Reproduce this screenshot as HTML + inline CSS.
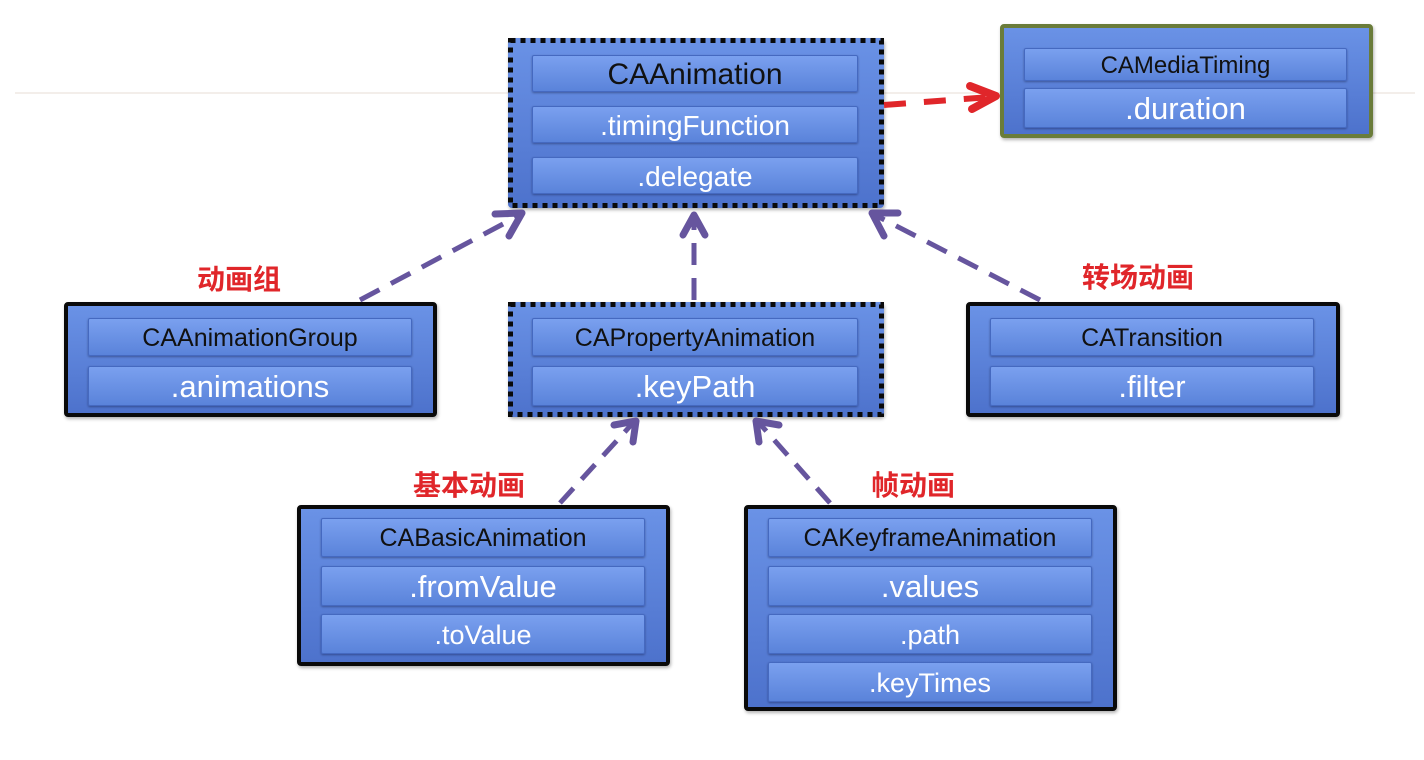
<!DOCTYPE html>
<html><head><meta charset="utf-8"><style>
body{margin:0;width:1424px;height:760px;background:#fff;position:relative;overflow:hidden;font-family:"Liberation Sans",sans-serif}
.b{position:absolute;box-sizing:border-box;background:linear-gradient(#6a92e6,#4d72cc);border-radius:4px;box-shadow:1px 2px 3px rgba(0,0,0,.3)}
.s{border:4px solid #0a0a0a}
.g{border:4px solid #6a7c3a}
.r{position:absolute;box-sizing:border-box;background:linear-gradient(#7aa0ef,#5a83da);border:1px solid #4569c0;border-radius:2px;box-shadow:0 1px 2px rgba(0,0,30,.35);color:#fff;text-align:center;white-space:nowrap;font-family:"Liberation Sans",sans-serif}
.k{color:#111}
.l{position:absolute;color:#e0262a;font-weight:bold;font-size:28px;font-family:"Liberation Sans","Noto Sans CJK SC",sans-serif;text-shadow:0 0 3px #fff}
</style></head><body>
<div style="position:absolute;left:15px;top:92px;width:1400px;height:2px;background:#f3eeea"></div>

<div class="b" style="left:508px;top:38px;width:376px;height:170px"></div>
<div class="r k" style="left:532px;top:55px;width:326px;height:37px;font-size:30px;line-height:37px">CAAnimation</div>
<div class="r" style="left:532px;top:106px;width:326px;height:37px;font-size:28px;line-height:37px">.timingFunction</div>
<div class="r" style="left:532px;top:157px;width:326px;height:37px;font-size:28px;line-height:37px">.delegate</div>

<div class="b g" style="left:1000px;top:24px;width:373px;height:114px"></div>
<div class="r k" style="left:1024px;top:48px;width:323px;height:33px;font-size:24px;line-height:33px">CAMediaTiming</div>
<div class="r" style="left:1024px;top:88px;width:323px;height:40px;font-size:31px;line-height:40px">.duration</div>

<div class="b s" style="left:64px;top:302px;width:373px;height:115px"></div>
<div class="r k" style="left:88px;top:318px;width:324px;height:38px;font-size:25px;line-height:38px">CAAnimationGroup</div>
<div class="r" style="left:88px;top:366px;width:324px;height:40px;font-size:31px;line-height:40px">.animations</div>

<div class="b" style="left:508px;top:302px;width:376px;height:115px"></div>
<div class="r k" style="left:532px;top:318px;width:326px;height:38px;font-size:25px;line-height:38px">CAPropertyAnimation</div>
<div class="r" style="left:532px;top:366px;width:326px;height:40px;font-size:31px;line-height:40px">.keyPath</div>

<div class="b s" style="left:966px;top:302px;width:374px;height:115px"></div>
<div class="r k" style="left:990px;top:318px;width:324px;height:38px;font-size:25px;line-height:38px">CATransition</div>
<div class="r" style="left:990px;top:366px;width:324px;height:40px;font-size:31px;line-height:40px">.filter</div>

<div class="b s" style="left:297px;top:505px;width:373px;height:161px"></div>
<div class="r k" style="left:321px;top:518px;width:324px;height:39px;font-size:25px;line-height:39px">CABasicAnimation</div>
<div class="r" style="left:321px;top:566px;width:324px;height:40px;font-size:31px;line-height:40px">.fromValue</div>
<div class="r" style="left:321px;top:614px;width:324px;height:40px;font-size:27px;line-height:40px">.toValue</div>

<div class="b s" style="left:744px;top:505px;width:373px;height:206px"></div>
<div class="r k" style="left:768px;top:518px;width:324px;height:39px;font-size:25px;line-height:39px">CAKeyframeAnimation</div>
<div class="r" style="left:768px;top:566px;width:324px;height:40px;font-size:31px;line-height:40px">.values</div>
<div class="r" style="left:768px;top:614px;width:324px;height:40px;font-size:27px;line-height:40px">.path</div>
<div class="r" style="left:768px;top:662px;width:324px;height:40px;font-size:27px;line-height:40px">.keyTimes</div>

<div class="l" style="left:197px;top:258px">动画组</div>
<div class="l" style="left:1082px;top:256px">转场动画</div>
<div class="l" style="left:413px;top:464px">基本动画</div>
<div class="l" style="left:871px;top:464px">帧动画</div>

<svg width="1424" height="760" style="position:absolute;left:0;top:0">
<g fill="none" stroke="#0a0a0a" stroke-width="5" stroke-dasharray="5 5">
<rect x="510.5" y="40.5" width="371" height="165"/>
<rect x="510.5" y="304.5" width="371" height="110"/>
</g>
<g stroke="#66559e" stroke-width="5" fill="none" stroke-linecap="butt">
<line x1="360" y1="300" x2="520" y2="215" stroke-dasharray="22 13"/>
<line x1="694" y1="300" x2="694" y2="218" stroke-dasharray="22 13"/>
<line x1="1040" y1="300" x2="875" y2="215" stroke-dasharray="22 13"/>
<line x1="560" y1="503" x2="632" y2="424" stroke-dasharray="20 12"/>
<line x1="830" y1="503" x2="760" y2="424" stroke-dasharray="20 12"/>
</g>
<g stroke="#66559e" stroke-width="7" fill="none" stroke-linecap="round" stroke-linejoin="round">
<polyline points="495,214 522,213 509,236"/>
<polyline points="683,235 694,215 705,235"/>
<polyline points="898,213 872,213 884,236"/>
<polyline points="614,425 636,421 633,442"/>
<polyline points="779,425 756,421 759,442"/>
</g>
<g stroke="#e0262a" stroke-width="6" fill="none">
<line x1="884" y1="105" x2="990" y2="97" stroke-dasharray="22 18"/>
<polyline points="970,86 996,96 972,109" stroke-width="8" stroke-linejoin="round" stroke-linecap="round"/>
</g>
</svg>
</body></html>
